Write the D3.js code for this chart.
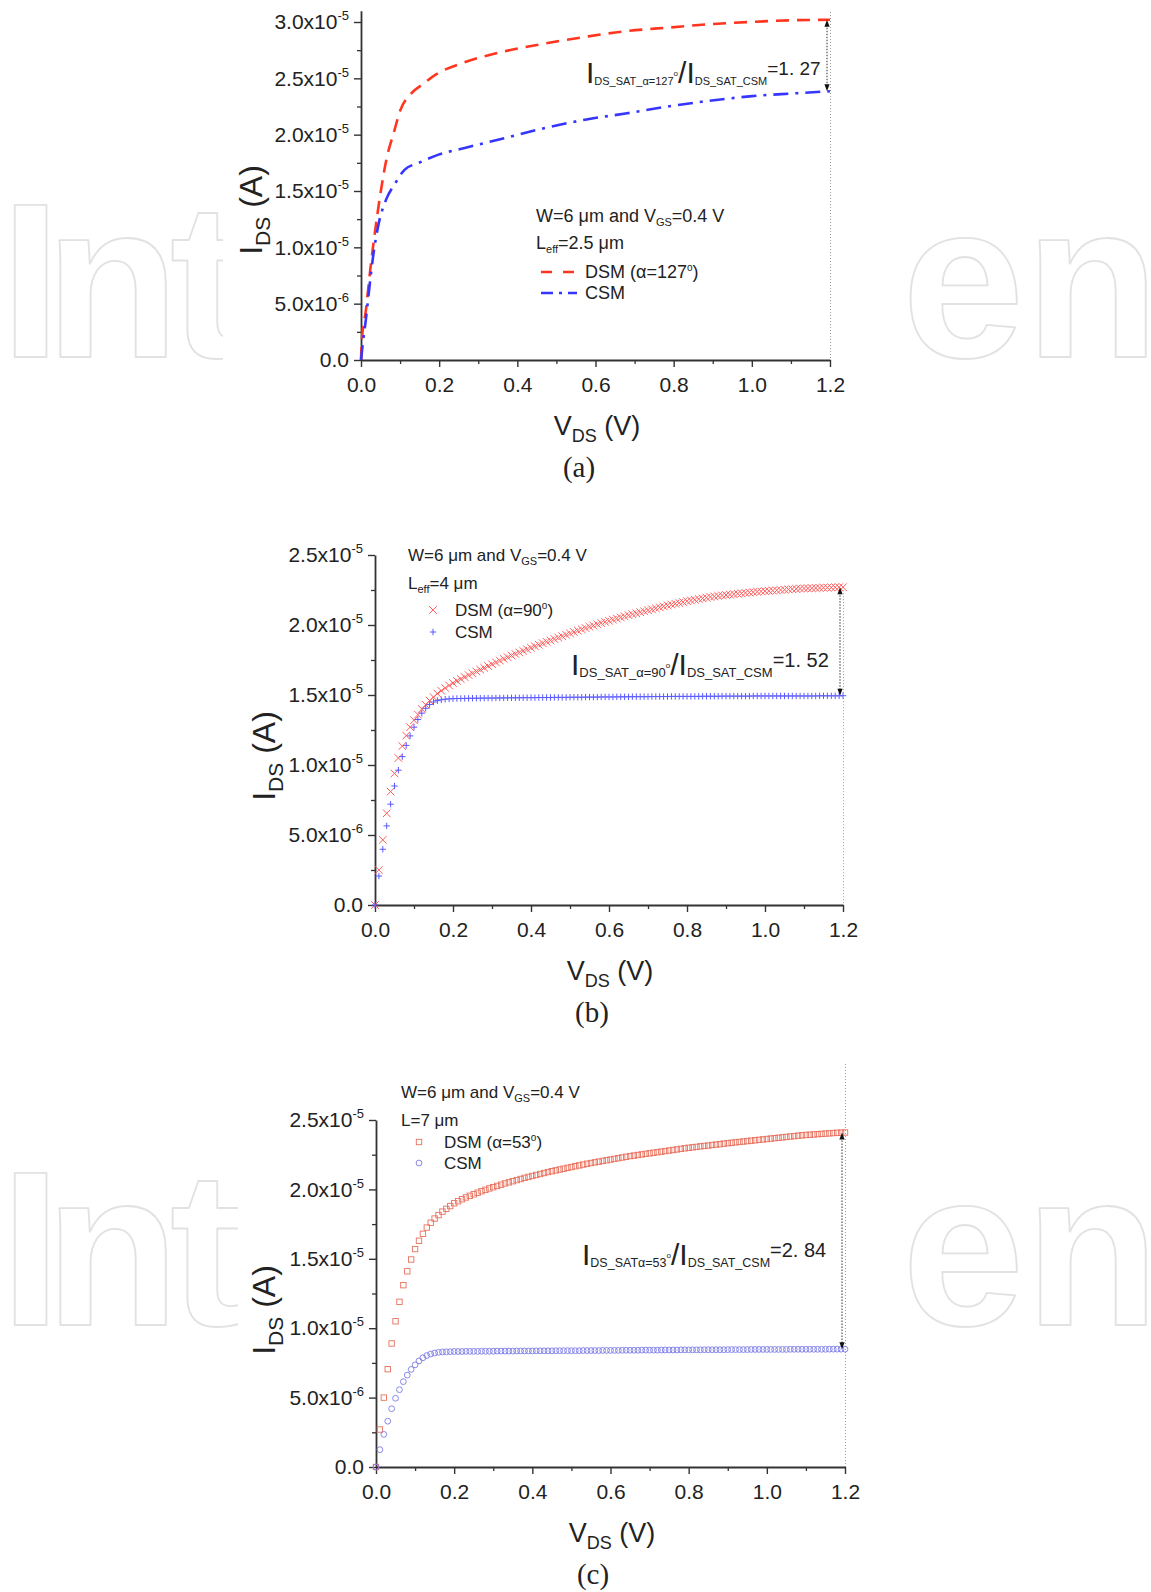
<!DOCTYPE html>
<html><head><meta charset="utf-8">
<script src="https://cdn.jsdelivr.net/npm/d3@7"></script>
<style>
body{margin:0;background:#fff}
svg text{font-family:"Liberation Sans",Arial,sans-serif;fill:#222}
</style>
</head><body>
<svg id="c" width="1151" height="1592"></svg>
<script>
// ---------------- DATA ----------------
const uA = 1e-6;          // currents below are stored in µA
const vStep = 0.01;       // sampling step of the marker series (V)
const xTicks = [0, 0.2, 0.4, 0.6, 0.8, 1.0, 1.2];
const xTickLabels = ["0.0", "0.2", "0.4", "0.6", "0.8", "1.0", "1.2"];
const xMinor = [0.1, 0.3, 0.5, 0.7, 0.9, 1.1];
const yTicksA = [0, 5e-6, 1e-5, 1.5e-5, 2e-5, 2.5e-5, 3e-5];
const yTickLabelsA = ["0.0", "5.0x10^-6", "1.0x10^-5", "1.5x10^-5", "2.0x10^-5", "2.5x10^-5", "3.0x10^-5"];
const yMinorA = [2.5e-6, 7.5e-6, 1.25e-5, 1.75e-5, 2.25e-5, 2.75e-5];
const yTicksBC = [0, 5e-6, 1e-5, 1.5e-5, 2e-5, 2.5e-5];
const yTickLabelsBC = ["0.0", "5.0x10^-6", "1.0x10^-5", "1.5x10^-5", "2.0x10^-5", "2.5x10^-5"];
const yMinorBC = [2.5e-6, 7.5e-6, 1.25e-5, 1.75e-5, 2.25e-5];

// (a) L_eff = 2.5 um, lines
const aDsmV = [0, 0.002, 0.0125, 0.023, 0.0355, 0.049, 0.065, 0.084, 0.101, 0.127, 0.159, 0.19, 0.263, 0.368, 0.472, 0.577, 0.681, 0.785, 0.89, 0.994, 1.1, 1.2];
const aDsmI = [0, 1.7, 4.4, 7.8, 11.3, 14.6, 17.8, 20.2, 22.2, 23.6, 24.5, 25.3, 26.4, 27.4, 28.1, 28.7, 29.2, 29.5, 29.8, 30.0, 30.15, 30.2];
const aCsmV = [0, 0.004, 0.0125, 0.021, 0.031, 0.044, 0.065, 0.086, 0.112, 0.148, 0.2, 0.263, 0.368, 0.472, 0.577, 0.681, 0.785, 0.89, 0.994, 1.1, 1.2];
const aCsmI = [0, 1.27, 3.6, 6.3, 9.2, 11.9, 14.3, 15.6, 16.9, 17.5, 18.25, 18.8, 19.7, 20.6, 21.35, 21.9, 22.5, 23.0, 23.4, 23.65, 23.85];

// (b) L_eff = 4 um, markers every 0.01 V from 0 to 1.2 V
const bDsm = [0, 2.5, 4.65, 6.55, 8.1, 9.4, 10.5, 11.35, 12.1, 12.7, 13.2,
  13.6, 14.0, 14.3, 14.6, 14.85, 15.1, 15.3, 15.5, 15.68, 15.85,
  16.0, 16.14, 16.28, 16.42, 16.55, 16.68, 16.81, 16.94, 17.07, 17.2,
  17.33, 17.46, 17.58, 17.7, 17.82, 17.93, 18.04, 18.15, 18.26, 18.37,
  18.48, 18.59, 18.7, 18.8, 18.9, 19.0, 19.1, 19.2, 19.3, 19.4,
  19.5, 19.6, 19.69, 19.78, 19.87, 19.96, 20.05, 20.14, 20.22, 20.3,
  20.38, 20.46, 20.54, 20.62, 20.7, 20.77, 20.84, 20.91, 20.98, 21.05,
  21.12, 21.19, 21.26, 21.33, 21.4, 21.46, 21.52, 21.58, 21.64, 21.7,
  21.75, 21.8, 21.85, 21.9, 21.95, 22.0, 22.04, 22.08, 22.11, 22.14,
  22.17, 22.2, 22.23, 22.26, 22.29, 22.32, 22.35, 22.38, 22.4, 22.42,
  22.44, 22.46, 22.48, 22.5, 22.52, 22.54, 22.56, 22.58, 22.6, 22.61,
  22.62, 22.63, 22.64, 22.65, 22.66, 22.67, 22.68, 22.69, 22.7, 22.7];
const bCsm = [0, 2.07, 3.98, 5.65, 7.2, 8.5, 9.63, 10.6, 11.4, 12.08, 12.7,
  13.25, 13.7, 14.05, 14.32, 14.5, 14.6, 14.66, 14.7, 14.72, 14.74,
  14.75, 14.75, 14.76, 14.76, 14.77, 14.77, 14.77, 14.78, 14.78, 14.78,
  14.79, 14.79, 14.79, 14.8, 14.8, 14.8, 14.8, 14.81, 14.81, 14.81,
  14.81, 14.82, 14.82, 14.82, 14.82, 14.83, 14.83, 14.83, 14.83, 14.84,
  14.84, 14.84, 14.84, 14.85, 14.85, 14.85, 14.85, 14.86, 14.86, 14.86,
  14.86, 14.87, 14.87, 14.87, 14.87, 14.88, 14.88, 14.88, 14.88, 14.88,
  14.89, 14.89, 14.89, 14.89, 14.89, 14.9, 14.9, 14.9, 14.9, 14.9,
  14.9, 14.9, 14.9, 14.91, 14.91, 14.91, 14.91, 14.91, 14.92, 14.92,
  14.92, 14.92, 14.92, 14.92, 14.92, 14.92, 14.93, 14.93, 14.93, 14.93,
  14.93, 14.93, 14.93, 14.93, 14.93, 14.93, 14.93, 14.93, 14.93, 14.93,
  14.93, 14.93, 14.93, 14.94, 14.94, 14.94, 14.94, 14.94, 14.94, 14.95];

// (c) L = 7 um, markers every 0.01 V from 0 to 1.2 V
const cDsm = [0, 2.7, 5.0, 7.05, 8.9, 10.5, 11.9, 13.1, 14.1, 14.95, 15.7,
  16.3, 16.8, 17.25, 17.6, 17.9, 18.15, 18.4, 18.6, 18.8, 19.0,
  19.15, 19.29, 19.42, 19.54, 19.65, 19.76, 19.87, 19.97, 20.07, 20.16,
  20.25, 20.34, 20.43, 20.51, 20.59, 20.67, 20.75, 20.83, 20.9, 20.97,
  21.04, 21.11, 21.18, 21.25, 21.31, 21.37, 21.43, 21.49, 21.55, 21.61,
  21.67, 21.73, 21.79, 21.85, 21.9, 21.95, 22.0, 22.05, 22.1, 22.15,
  22.2, 22.25, 22.3, 22.35, 22.4, 22.44, 22.48, 22.52, 22.56, 22.6,
  22.64, 22.68, 22.72, 22.76, 22.8, 22.84, 22.88, 22.92, 22.96, 23.0,
  23.03, 23.06, 23.1, 23.13, 23.16, 23.2, 23.23, 23.26, 23.3, 23.33,
  23.36, 23.39, 23.42, 23.45, 23.48, 23.51, 23.54, 23.57, 23.6, 23.63,
  23.66, 23.69, 23.72, 23.75, 23.78, 23.81, 23.84, 23.87, 23.9, 23.92,
  23.94, 23.96, 23.98, 24.0, 24.02, 24.04, 24.06, 24.08, 24.09, 24.1];
const cCsm = [0, 1.25, 2.35, 3.3, 4.2, 4.95, 5.57, 6.15, 6.62, 7.03, 7.36,
  7.64, 7.87, 8.03, 8.14, 8.21, 8.26, 8.29, 8.3, 8.31, 8.32,
  8.32, 8.32, 8.33, 8.33, 8.33, 8.33, 8.34, 8.34, 8.34, 8.34,
  8.35, 8.35, 8.35, 8.35, 8.35, 8.36, 8.36, 8.36, 8.36, 8.36,
  8.37, 8.37, 8.37, 8.37, 8.37, 8.38, 8.38, 8.38, 8.38, 8.38,
  8.38, 8.38, 8.39, 8.39, 8.39, 8.39, 8.39, 8.4, 8.4, 8.4,
  8.4, 8.4, 8.41, 8.41, 8.41, 8.41, 8.41, 8.42, 8.42, 8.42,
  8.42, 8.42, 8.43, 8.43, 8.43, 8.43, 8.43, 8.44, 8.44, 8.44,
  8.44, 8.44, 8.44, 8.45, 8.45, 8.45, 8.45, 8.45, 8.45, 8.46,
  8.46, 8.46, 8.46, 8.46, 8.46, 8.47, 8.47, 8.47, 8.47, 8.47,
  8.47, 8.47, 8.47, 8.47, 8.47, 8.48, 8.48, 8.48, 8.48, 8.48,
  8.48, 8.48, 8.48, 8.48, 8.48, 8.49, 8.49, 8.49, 8.49, 8.49];

// ---------------- DRAWING ----------------
const svg = d3.select("#c");
svg.append("rect").attr("width", 1151).attr("height", 1592).attr("fill", "#fff");

// watermark (outlined logo letters, visible only beside the white figure panels)
function watermark(top, leftW) {
  const common = s => s.attr("font-family", "'Open Sans', Lato, sans-serif")
    .attr("font-weight", 700).attr("font-size", 220)
    .attr("stroke", "#e2e2e2").attr("stroke-width", 1.8).attr("stroke-linejoin", "round");
  const left = svg.append("svg").attr("x", 0).attr("y", top).attr("width", leftW).attr("height", 200)
    .attr("overflow", "hidden");
  const t1 = left.append("text").attr("x", 0).attr("y", 157).style("fill", "#fff").call(common);
  t1.append("tspan").text("I");
  const sN = t1.append("tspan").text("n");
  const sT = t1.append("tspan").text("t");
  // place each letter's origin where the reference logo has it
  const n1 = t1.node();
  const advI = n1.getSubStringLength(0, 1), advN = n1.getSubStringLength(1, 1);
  sN.attr("dx", 45 - advI);
  sT.attr("dx", 170 - (45 + advN));
  const right = svg.append("svg").attr("x", 905).attr("y", top).attr("width", 246).attr("height", 200)
    .attr("overflow", "hidden");
  const t2 = right.append("text").attr("x", -3).attr("y", 157).style("fill", "#fff").call(common);
  t2.append("tspan").text("e");
  const sN2 = t2.append("tspan").text("n");
  const advE = t2.node().getSubStringLength(0, 1);
  sN2.attr("dx", 123 - advE);
}
watermark(200, 223);
watermark(1168, 238);

// rich text helper: parts = [[text, size, baselineShift]]
function rich(g, x, y, parts, anchor) {
  const t = g.append("text").attr("x", x).attr("y", y).attr("text-anchor", anchor || "start");
  let cur = 0;
  parts.forEach(([s, size, shift]) => {
    t.append("tspan").attr("font-size", size).attr("dy", (shift || 0) - cur).text(s);
    cur = shift || 0;
  });
  return t;
}

const axisColor = "#333";

function drawPanel(p) {
  const g = svg.append("g");
  const x = d3.scaleLinear().domain([0, 1.2]).range([p.x0, p.x1]);
  const y = d3.scaleLinear().domain([0, p.yMax]).range([p.yb, p.yt]);
  p.x = x; p.y = y;

  // dotted guide at x = 1.2
  g.append("line").attr("x1", x(1.2) + 0.5).attr("x2", x(1.2) + 0.5)
    .attr("y1", p.dotTop).attr("y2", p.yb)
    .attr("stroke", "#9a9a9a").attr("stroke-width", 1).attr("stroke-dasharray", "1,2");

  // minor ticks
  g.append("g").attr("transform", `translate(0,${p.yb})`)
    .call(d3.axisBottom(x).tickValues(xMinor).tickSize(4).tickFormat(""))
    .call(s => { s.select(".domain").remove(); s.selectAll("line").attr("stroke", axisColor).attr("stroke-width", 1.3); });
  g.append("g").attr("transform", `translate(${p.x0},0)`)
    .call(d3.axisLeft(y).tickValues(p.yMinor).tickSize(4).tickFormat(""))
    .call(s => { s.select(".domain").remove(); s.selectAll("line").attr("stroke", axisColor).attr("stroke-width", 1.3); });

  // x axis
  const xa = g.append("g").attr("transform", `translate(0,${p.yb})`)
    .call(d3.axisBottom(x).tickValues(xTicks).tickSize(7).tickSizeOuter(0).tickPadding(10)
      .tickFormat((d, i) => xTickLabels[i]));
  xa.attr("font-size", 21).attr("font-family", null);
  xa.select(".domain").attr("stroke", axisColor).attr("stroke-width", 1.8);
  xa.selectAll(".tick line").attr("stroke", axisColor).attr("stroke-width", 1.4);
  xa.selectAll(".tick text").attr("fill", "#222");

  // y axis
  const ya = g.append("g").attr("transform", `translate(${p.x0},0)`)
    .call(d3.axisLeft(y).tickValues(p.yTicks).tickSize(7).tickSizeOuter(0).tickPadding(5)
      .tickFormat((d, i) => p.yLabels[i]));
  ya.attr("font-size", 21).attr("font-family", null);
  ya.select(".domain").attr("stroke", axisColor).attr("stroke-width", 1.8);
  ya.selectAll(".tick line").attr("stroke", axisColor).attr("stroke-width", 1.4);
  ya.selectAll(".tick text").attr("fill", "#222").each(function () {
    const s = d3.select(this); const lab = s.text();
    if (lab.includes("^")) {
      const [m, e] = lab.split("^");
      s.text(null);
      s.append("tspan").text(m);
      s.append("tspan").attr("font-size", 13).attr("dy", -9).text(e);
    }
  });

  // axis titles
  rich(g, p.xTitleX, p.yb + 75, [["V", 27, 0], ["DS", 18, 7], [" (V)", 27, 0]], "middle");
  const yt = g.append("g").attr("transform", `translate(${p.yTitleX},${p.yTitleY}) rotate(-90)`);
  rich(yt, 0, 0, [["I", 32, 0], ["DS", 21, 8], [" (A)", 32, 0]], "middle");

  // panel letter
  g.append("text").attr("x", p.letterX).attr("y", p.yb + 117).attr("text-anchor", "middle")
    .attr("font-size", 29).style("font-family", "'Liberation Serif','Times New Roman',serif")
    .text(p.letter);
  return g;
}

function ratioArrow(g, xx, y1, y2) {
  g.append("line").attr("x1", xx).attr("x2", xx).attr("y1", y1 + 5).attr("y2", y2 - 5)
    .attr("stroke", "#333").attr("stroke-width", 1).attr("stroke-dasharray", "1.5,1.5");
  g.append("path").attr("d", `M${xx},${y1} L${xx - 2.6},${y1 + 7} L${xx + 2.6},${y1 + 7} Z`).attr("fill", "#111");
  g.append("path").attr("d", `M${xx},${y2} L${xx - 2.6},${y2 - 7} L${xx + 2.6},${y2 - 7} Z`).attr("fill", "#111");
}

function ratioText(g, x0, base, mid, val, sub, big) {
  const subShift = 10, bigShift = 8;
  rich(g, x0, base, [["I", 30, bigShift], ["DS_SAT" + mid, sub, subShift], ["o", 8, 1],
    ["/", 30, bigShift], ["I", 30, bigShift], ["DS_SAT_CSM", sub, subShift], ["=" + val, big, 0]]);
}

// ---------- panel (a) ----------
const pa = { x0: 361, x1: 830, yb: 360, yt: 360 - 3.1 / 3.0 * 338, yMax: 3.1e-5,
  yTicks: yTicksA, yLabels: yTickLabelsA, yMinor: yMinorA, dotTop: 12,
  xTitleX: 597, yTitleX: 262, yTitleY: 210, letterX: 579, letter: "(a)" };
const ga = drawPanel(pa);
const lineA = d3.line().x(d => pa.x(d[0])).y(d => pa.y(d[1] * uA)).curve(d3.curveMonotoneX);
ga.append("path").attr("d", lineA(aDsmV.map((v, i) => [v, aDsmI[i]])))
  .attr("fill", "none").attr("stroke", "#ff3520").attr("stroke-width", 2.6).attr("stroke-dasharray", "13,8");
ga.append("path").attr("d", lineA(aCsmV.map((v, i) => [v, aCsmI[i]])))
  .attr("fill", "none").attr("stroke", "#3535ff").attr("stroke-width", 2.6).attr("stroke-dasharray", "15,7,3,7");
ratioArrow(ga, pa.x(1.2) - 3, pa.y(aDsmI[aDsmI.length - 1] * uA), pa.y(aCsmI[aCsmI.length - 1] * uA));
ratioText(ga, 586, 75, "_\u03b1=127", "1. 27", 11, 19);
rich(ga, 536, 222, [["W=6 \u03bcm and V", 18, 0], ["GS", 11, 4], ["=0.4 V", 18, 0]]);
rich(ga, 536, 249, [["L", 18, 0], ["eff", 11, 4], ["=2.5 \u03bcm", 18, 0]]);
ga.append("line").attr("x1", 541).attr("x2", 575).attr("y1", 272).attr("y2", 272)
  .attr("stroke", "#ff3520").attr("stroke-width", 2.6).attr("stroke-dasharray", "11,11");
rich(ga, 585, 278, [["DSM (\u03b1=127", 18, 0], ["o", 10, -7], [")", 18, 0]]);
ga.append("line").attr("x1", 541).attr("x2", 577).attr("y1", 293).attr("y2", 293)
  .attr("stroke", "#3535ff").attr("stroke-width", 2.6).attr("stroke-dasharray", "12,6,3,6");
rich(ga, 585, 299, [["CSM", 18, 0]]);

// marker helpers
const crossPath = s => `M${-s},${-s}L${s},${s}M${-s},${s}L${s},${-s}`;
const plusPath = s => `M${-s},0L${s},0M0,${-s}L0,${s}`;

// ---------- panel (b) ----------
const pb = { x0: 375, x1: 843, yb: 905, yt: 555, yMax: 2.5e-5,
  yTicks: yTicksBC, yLabels: yTickLabelsBC, yMinor: yMinorBC, dotTop: 0,
  xTitleX: 610, yTitleX: 275, yTitleY: 756, letterX: 592, letter: "(b)" };
pb.dotTop = 905 - 22.7 / 25 * 350;
const gb = drawPanel(pb);
gb.append("g").selectAll("path").data(bDsm).join("path")
  .attr("transform", (d, i) => `translate(${pb.x(i * vStep)},${pb.y(d * uA)})`)
  .attr("d", crossPath(3.8)).attr("fill", "none").attr("stroke", "#ff5c5c").attr("stroke-width", 1);
gb.append("g").selectAll("path").data(bCsm).join("path")
  .attr("transform", (d, i) => `translate(${pb.x(i * vStep)},${pb.y(d * uA)})`)
  .attr("d", plusPath(3.2)).attr("fill", "none").attr("stroke", "#5a5aff").attr("stroke-width", 1);
ratioArrow(gb, pb.x(1.2) - 3, pb.y(bDsm[120] * uA), pb.y(bCsm[120] * uA));
ratioText(gb, 571, 667, "_\u03b1=90", "1. 52", 13, 20);
rich(gb, 408, 561, [["W=6 \u03bcm and V", 17, 0], ["GS", 11, 4], ["=0.4 V", 17, 0]]);
rich(gb, 408, 589, [["L", 17, 0], ["eff", 11, 4], ["=4 \u03bcm", 17, 0]]);
gb.append("path").attr("transform", "translate(433,610)").attr("d", crossPath(3.8))
  .attr("fill", "none").attr("stroke", "#ff5c5c").attr("stroke-width", 1);
rich(gb, 455, 616, [["DSM (\u03b1=90", 17, 0], ["o", 10, -7], [")", 17, 0]]);
gb.append("path").attr("transform", "translate(433,632)").attr("d", plusPath(3.2))
  .attr("fill", "none").attr("stroke", "#5a5aff").attr("stroke-width", 1);
rich(gb, 455, 638, [["CSM", 17, 0]]);

// ---------- panel (c) ----------
const pc = { x0: 376, x1: 845, yb: 1467, yt: 1120, yMax: 2.5e-5,
  yTicks: yTicksBC, yLabels: yTickLabelsBC, yMinor: yMinorBC, dotTop: 1064,
  xTitleX: 612, yTitleX: 275, yTitleY: 1310, letterX: 593, letter: "(c)" };
const gc = drawPanel(pc);
gc.append("g").selectAll("rect").data(cDsm).join("rect")
  .attr("x", (d, i) => pc.x(i * vStep) - 2.7).attr("y", d => pc.y(d * uA) - 2.7)
  .attr("width", 5.4).attr("height", 5.4)
  .attr("fill", "none").attr("stroke", "#e8705c").attr("stroke-width", 0.9);
gc.append("g").selectAll("circle").data(cCsm).join("circle")
  .attr("cx", (d, i) => pc.x(i * vStep)).attr("cy", d => pc.y(d * uA)).attr("r", 2.9)
  .attr("fill", "none").attr("stroke", "#7c7ce6").attr("stroke-width", 0.9);
ratioArrow(gc, pc.x(1.2) - 3, pc.y(cDsm[120] * uA), pc.y(cCsm[120] * uA));
ratioText(gc, 582, 1257, "\u03b1=53", "2. 84", 12.5, 20);
rich(gc, 401, 1098, [["W=6 \u03bcm and V", 17, 0], ["GS", 11, 4], ["=0.4 V", 17, 0]]);
rich(gc, 401, 1126, [["L=7 \u03bcm", 17, 0]]);
gc.append("rect").attr("x", 419 - 2.7).attr("y", 1142 - 2.7).attr("width", 5.4).attr("height", 5.4)
  .attr("fill", "none").attr("stroke", "#e8705c").attr("stroke-width", 0.9);
rich(gc, 444, 1148, [["DSM (\u03b1=53", 17, 0], ["o", 10, -7], [")", 17, 0]]);
gc.append("circle").attr("cx", 419).attr("cy", 1163).attr("r", 2.9)
  .attr("fill", "none").attr("stroke", "#7c7ce6").attr("stroke-width", 0.9);
rich(gc, 444, 1169, [["CSM", 17, 0]]);
</script>
</body></html>
